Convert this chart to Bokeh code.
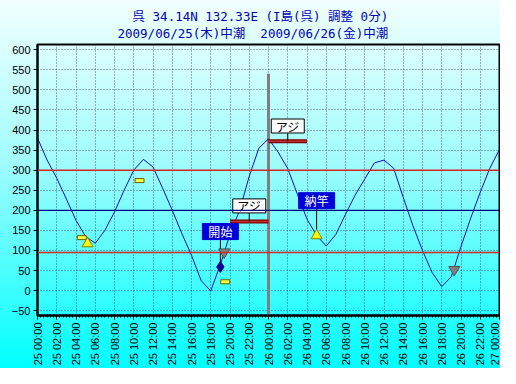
import math
from bokeh.plotting import figure
from bokeh.models import Range1d, FixedTicker, Span, Title
from bokeh.core.properties import value
from bokeh.embed import file_html
from bokeh.resources import INLINE

# ---- data (hours from 2009/06/25 00:00) ----
hours = list(range(49))
tide = [380, 325, 280, 228, 175, 135, 118, 150, 196, 250,
        300, 327, 308, 255, 200, 142, 88, 25, -1, 65,
        140, 200, 285, 355, 378, 345, 304, 240, 178, 137,
        111, 140, 190, 238, 278, 318, 325, 305, 232, 162,
        100, 45, 10, 35, 110, 180, 245, 305, 352]

tick_hours = [0, 2, 4, 6, 8, 10, 12, 14, 16, 18, 20, 22, 24,
              26, 28, 30, 32, 34, 36, 38, 40, 42, 44, 46, 48]
tick_labels = ["25 00:00", "25 02:00", "25 04:00", "25 06:00", "25 08:00",
               "25 10:00", "25 12:00", "25 14:00", "25 16:00", "25 18:00",
               "25 20:00", "25 22:00", "26 00:00", "26 02:00", "26 04:00",
               "26 06:00", "26 08:00", "26 10:00", "26 12:00", "26 14:00",
               "26 16:00", "26 18:00", "26 20:00", "26 22:00", "27 00:00"]
y_ticks = [-50, 0, 50, 100, 150, 200, 250, 300, 350, 400, 450, 500, 550, 600]

red_levels = [300, 95]
navy_level = 200
now_hour = 24
now_top = 540

rect_x = [4.6, 10.6, 19.5]
rect_y = [132, 274, 22]
low_tri_x = [5.2, 29.0]
low_tri_y = [117, 137]
gray_tri_x = [19.4, 43.3]
gray_tri_y = [96, 52]
start_x = [19.0]
start_y = [59]

catch_start = [20, 24]
catch_end = [24, 28]
catch_level = [172, 372]
catch_text = ["アジ", "アジ"]
catch_label_x = [22.0, 26.0]
catch_label_y = [211, 410]

event_text = ["開始", "納竿"]
event_x = [19.0, 29.0]
event_label_y = [147, 224]
event_point_y = [59, 137]

title1 = "呉 34.14N 132.33E (I島(呉) 調整 0分)"
title2a = "2009/06/25(木)中潮"
title2b = "2009/06/26(金)中潮"
title_text = "\u00a0\u00a0" + title1 + "\n" + title2a + "\u00a0\u00a0" + title2b

# ---- figure ----
p = figure(width=500, height=368, x_range=Range1d(0, 48), y_range=Range1d(-62, 613),
           output_backend="svg", toolbar_location=None, title=None,
           min_border_left=37, min_border_right=1, min_border_top=44, min_border_bottom=52)
p.styles = {"background": "linear-gradient(to bottom, #f2ffff 0%, #9ffcfc 45%, #00ffff 100%)"}
p.border_fill_color = None
p.background_fill_color = None
p.outline_line_color = "black"
p.outline_line_width = 2

tt = Title(text=title_text, align="left", offset=80, standoff=8,
           text_font="DejaVu Sans Mono, Noto Sans CJK JP",
           text_font_size="12.5px", text_font_style="normal", text_color="#0000b0",
           text_line_height=1.1)
p.add_layout(tt, "above")

minor = [i / 3 for i in range(0, 145)]
p.xaxis.ticker = FixedTicker(ticks=tick_hours, minor_ticks=minor)
p.xaxis.major_label_overrides = {h: lab for h, lab in zip(tick_hours, tick_labels)}
p.xaxis.major_label_orientation = math.pi / 2
p.yaxis.ticker = FixedTicker(ticks=y_ticks)
for ax in (p.xaxis, p.yaxis):
    ax.axis_line_color = "black"
    ax.axis_line_width = 2
    ax.major_tick_line_color = "black"
    ax.minor_tick_line_color = "black"
    ax.major_tick_in = 0
    ax.major_tick_out = 4
    ax.minor_tick_in = 0
    ax.minor_tick_out = 2
    ax.major_label_text_font = "Liberation Sans"
    ax.major_label_text_font_size = "11px"
    ax.major_label_text_color = "black"
    ax.major_label_standoff = 3
p.yaxis.minor_tick_out = 0

p.xgrid.ticker = FixedTicker(ticks=tick_hours)
p.ygrid.ticker = FixedTicker(ticks=y_ticks)
for g in (p.xgrid, p.ygrid):
    g.grid_line_color = "#2a2a50"
    g.grid_line_dash = "1 2"
    g.grid_line_alpha = 0.7
    g.grid_line_width = 1

for lv in red_levels:
    p.add_layout(Span(location=lv, dimension="width", line_color="#d02828", line_width=1.5))
p.add_layout(Span(location=navy_level, dimension="width", line_color="#000080", line_width=1.2))

p.segment(x0=[now_hour], y0=[-62], x1=[now_hour], y1=[now_top], line_color="#808080", line_width=3)

p.line(hours, tide, line_color="#1010c0", line_width=1)

# catch bars
p.segment(x0=catch_start, y0=catch_level, x1=catch_end, y1=catch_level, line_color="#7a0000", line_width=4)
p.segment(x0=catch_start, y0=catch_level, x1=catch_end, y1=catch_level, line_color="#c83030", line_width=1.5)

# connectors
p.segment(x0=catch_label_x, y0=[y - 17 for y in catch_label_y], x1=catch_label_x, y1=catch_level,
          line_color="black", line_width=1)
p.segment(x0=event_x, y0=[y - 18 for y in event_label_y], x1=event_x, y1=event_point_y,
          line_color="black", line_width=1)

# markers
p.rect(x=rect_x, y=rect_y, width=9, height=4, width_units="screen", height_units="screen",
       fill_color="#ffff40", line_color="#606000", line_width=1)
p.scatter(low_tri_x, low_tri_y, marker="triangle", size=11, fill_color="#ffff00",
          line_color="#808000", line_width=1)
p.scatter(gray_tri_x, gray_tri_y, marker="inverted_triangle", size=11, fill_color="#808080",
          line_color="#505050", line_width=1)
p.scatter(start_x, start_y, marker="diamond", size=11, fill_color="#0000a0",
          line_color="#000060", line_width=1)

# label boxes
p.rect(x=catch_label_x, y=catch_label_y, width=33, height=14, width_units="screen", height_units="screen",
       fill_color="white", line_color="black", line_width=1)
p.text(x=catch_label_x, y=catch_label_y, text=catch_text, text_align="center", text_baseline="middle",
       text_font=value("Noto Sans CJK JP"), text_font_size="12px", text_color="black")
p.rect(x=event_x, y=event_label_y, width=36, height=16, width_units="screen", height_units="screen",
       fill_color="#0000d8", line_color="#0000d8", line_width=1)
p.text(x=event_x, y=event_label_y, text=event_text, text_align="center", text_baseline="middle",
       text_font=value("Noto Sans CJK JP"), text_font_size="12px", text_color="white")

open("out.html", "w").write(file_html(p, INLINE))
